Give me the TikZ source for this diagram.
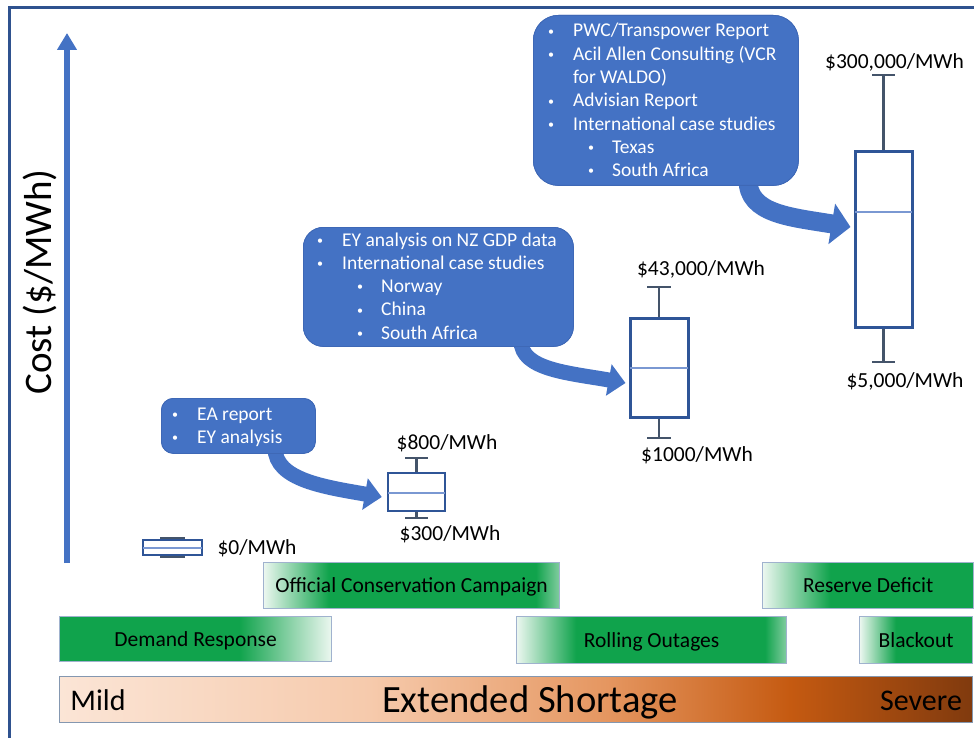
\documentclass[tikz,border=0pt]{standalone}
\usepackage{fontspec}
\setmainfont{Carlito}
\usetikzlibrary{arrows.meta}

\definecolor{framec}{RGB}{47,82,143}
\definecolor{axisblue}{RGB}{68,114,196}
\definecolor{bubbleedge}{RGB}{62,104,182}
\definecolor{boxblue}{RGB}{47,85,151}
\definecolor{medblue}{RGB}{122,152,210}
\definecolor{whisk}{RGB}{68,84,106}
\definecolor{gbar}{RGB}{16,163,76}
\definecolor{gwhite}{RGB}{236,247,240}
\definecolor{gsoft}{RGB}{130,205,160}
\definecolor{baredge}{RGB}{160,178,206}
\definecolor{peach}{RGB}{251,229,214}
\definecolor{peachmid}{RGB}{246,202,172}
\definecolor{orangemid}{RGB}{229,150,96}
\definecolor{burnt}{RGB}{197,90,17}
\definecolor{brownd}{RGB}{128,58,14}
\definecolor{shortedge}{RGB}{132,151,176}

% horizontal shadings: the path spans 25bp..75bp
\pgfdeclarehorizontalshading{shortage}{100bp}{color(0bp)=(peach); color(25bp)=(peach); color(42bp)=(peachmid); color(55bp)=(orangemid); color(65bp)=(burnt); color(75bp)=(brownd); color(100bp)=(brownd)}
\pgfdeclarehorizontalshading{fadeleft}{100bp}{color(0bp)=(gwhite); color(25bp)=(gwhite); color(41bp)=(gbar); color(100bp)=(gbar)}
\pgfdeclarehorizontalshading{fadeboth}{100bp}{color(0bp)=(gwhite); color(25bp)=(gwhite); color(36bp)=(gbar); color(71bp)=(gbar); color(75bp)=(gsoft); color(100bp)=(gsoft)}
\pgfdeclarehorizontalshading{faderight}{100bp}{color(0bp)=(gbar); color(58bp)=(gbar); color(75bp)=(gwhite); color(100bp)=(gwhite)}

% small list bullets
\newcommand\smallbul{\makebox[8pt]{\raisebox{1.8pt}{\fontsize{12}{12}\selectfont\textbullet}}}
\newcommand\itm[1]{\makebox[26pt][l]{\smallbul}#1}
\newcommand\subitm[1]{\hspace{40pt}\makebox[25pt][l]{\smallbul}#1}

\begin{document}
\begin{tikzpicture}[x=1pt,y=-1pt,
  frameline/.style={draw=framec, line width=3pt},
  axisline/.style={draw=axisblue, line width=5.5pt, -{Triangle[length=17pt,width=19pt]}},
  bubble/.style={fill=axisblue, draw=bubbleedge, line width=0.8pt, anchor=north west, inner sep=0pt},
  btext/.style={text=white, anchor=base west, inner sep=0pt, font=\fontsize{19.5}{23.3}\selectfont},
  bigflow/.style={draw=axisblue, line width=19pt, -{Triangle[length=19pt,width=40pt]}},
  flow/.style={draw=axisblue, line width=15pt, -{Triangle[length=17pt,width=31pt]}},
  bx/.style={draw=boxblue, line width=3pt, fill=white, inner sep=0pt},
  med/.style={draw=medblue, line width=2pt, shorten <=1.5pt, shorten >=1.5pt},
  wh/.style={draw=whisk, line width=2.5pt},
  val/.style={font=\fontsize{21.5}{24}\selectfont, text height=14pt, text depth=0pt, inner sep=0pt},
  bar/.style={draw=baredge, line width=1.2pt, anchor=north west, inner sep=0pt, shade,
    font=\fontsize{21.5}{24}\selectfont, text height=14pt, text depth=0pt},
  shortbar/.style={draw=shortedge, line width=1.2pt, shade, shading=shortage, anchor=north west, inner sep=0pt},
  endlbl/.style={font=\fontsize{30}{34}\selectfont, anchor=base, inner sep=0pt},
]
\useasboundingbox (0,0) rectangle (974,738);

% frame
\draw[frameline] (9,760) -- (9,8) -- (990,8);

% cost axis
\coordinate (axbot) at (67,563);
\coordinate (axtop) at (67,33);
\draw[axisline] (axbot) -- (axtop);
\node[rotate=90, font=\fontsize{39}{44}\selectfont, inner sep=0pt] (costlbl) at (40,282) {Cost (\$/MWh)};

% box plots
\node[bx, minimum width=57pt, minimum height=175pt] (boxC) at (883.5,239.5) {};
\node[bx, minimum width=58pt, minimum height=99pt] (boxB) at (659,367.5) {};
\node[bx, line width=2.5pt, minimum width=57pt, minimum height=38pt] (boxA) at (416.5,492) {};

% whiskers
\coordinate (capCt) at (883.5,75);
\coordinate (capCb) at (883.5,362);
\coordinate (capBt) at (659,287);
\coordinate (capBb) at (659,438);
\coordinate (capAt) at (416.5,458);
\coordinate (capAb) at (416.5,518);
\draw[wh] (boxC.north) -- (capCt);
\draw[wh] (boxC.south) -- (capCb);
\draw[wh] (boxB.north) -- (capBt);
\draw[wh] (boxB.south) -- (capBb);
\draw[wh] (boxA.north) -- (capAt);
\draw[wh] (boxA.south) -- (capAb);
\draw[wh] ([xshift=-11.5pt]capCt) -- ([xshift=11.5pt]capCt);
\draw[wh] ([xshift=-11.5pt]capCb) -- ([xshift=11.5pt]capCb);
\draw[wh] ([xshift=-12pt]capBt) -- ([xshift=12pt]capBt);
\draw[wh] ([xshift=-12pt]capBb) -- ([xshift=12pt]capBb);
\draw[wh] ([xshift=-11.5pt]capAt) -- ([xshift=11.5pt]capAt);
\draw[wh] ([xshift=-11.5pt]capAb) -- ([xshift=11.5pt]capAb);

% medians
\draw[med] (boxC.west |- 0,212) -- (boxC.east |- 0,212);
\draw[med] (boxB.west |- 0,368) -- (boxB.east |- 0,368);
\draw[med] (boxA.west |- 0,493) -- (boxA.east |- 0,493);

% zero-cost box
\fill[whisk] (160,537) rectangle (185,558);
\node[bx, line width=2.5pt, minimum width=59pt, minimum height=15pt] (box0) at (172.5,547.5) {};
\draw[med] (box0.west) -- (box0.east);

% value labels
\node[val] (vC1) at (894.5,62) {\$300,000/MWh};
\node[val] (vC2) at (905,380) {\$5,000/MWh};
\node[val] (vB1) at (701,268) {\$43,000/MWh};
\node[val] (vB2) at (697,454) {\$1000/MWh};
\node[val] (vA1) at (447,442) {\$800/MWh};
\node[val] (vA2) at (450,533) {\$300/MWh};
\node[val] (v0) at (257,547) {\$0/MWh};

% source bubbles and their flows
\node[bubble, rounded corners=25pt, minimum width=265pt, minimum height=170pt] (b1) at (533,15) {};
\node[bubble, rounded corners=20pt, minimum width=270pt, minimum height=119pt] (b2) at (303,227) {};
\node[bubble, rounded corners=12pt, minimum width=154pt, minimum height=55pt] (b3) at (161,398) {};

\coordinate (f1s) at ([xshift=215pt,yshift=6pt]b1.south west);
\coordinate (f1e) at ([shift={(-3pt,12.5pt)}]boxC.west);
\coordinate (f2s) at ([xshift=218pt,yshift=6pt]b2.south west);
\coordinate (f2e) at ([shift={(-3pt,-15.5pt)}]boxB.west);
\coordinate (f3s) at ([xshift=114pt,yshift=6pt]b3.south west);
\coordinate (f3e) at ([shift={(-5pt,-5pt)}]boxA.west);
\draw[bigflow] (f1s) .. controls (748,214) and (790,217) .. (f1e);
\draw[flow] (f2s) .. controls (521,370) and (570,373) .. (f2e);
\draw[flow] (f3s) .. controls (275,480) and (325,487) .. (f3e);

% redraw bubble bodies over the flow tails
\node[bubble, rounded corners=25pt, minimum width=265pt, minimum height=170pt] (b1top) at (533,15) {};
\node[bubble, rounded corners=20pt, minimum width=270pt, minimum height=119pt] (b2top) at (303,227) {};
\node[bubble, rounded corners=12pt, minimum width=154pt, minimum height=55pt] (b3top) at (161,398) {};

\node[btext] (b1text) at (547,37) {\begin{tabular}[t]{@{}l@{}}
\itm{PWC/Transpower Report}\\
\itm{Acil Allen Consulting (VCR}\\
\hspace{26pt}for WALDO)\\
\itm{Advisian Report}\\
\itm{International case studies}\\
\subitm{Texas}\\
\subitm{South Africa}
\end{tabular}};
\node[btext] (b2text) at (316,246) {\begin{tabular}[t]{@{}l@{}}
\itm{EY analysis on NZ GDP data}\\
\itm{International case studies}\\
\subitm{Norway}\\
\subitm{China}\\
\subitm{South Africa}
\end{tabular}};
\node[btext] (b3text) at (171,420) {\begin{tabular}[t]{@{}l@{}}
\itm{EA report}\\
\itm{EY analysis}
\end{tabular}};

% response stages
\node[bar, shading=fadeboth, minimum width=296pt, minimum height=46pt] (conserve) at (263,562) {Official Conservation Campaign};
\node[bar, shading=fadeleft, minimum width=211pt, minimum height=46pt] (reserve) at (762,562) {Reserve Deficit};
\node[bar, shading=faderight, minimum width=272pt, minimum height=45pt] (demand) at (59,616) {Demand Response};
\node[bar, shading=fadeboth, minimum width=270pt, minimum height=47pt] (rolling) at (516,616) {Rolling Outages};
\node[bar, shading=fadeleft, minimum width=113pt, minimum height=47pt] (blackout) at (859,616) {Blackout};

% severity scale
\node[shortbar, minimum width=913pt, minimum height=46pt] (shortage) at (59,676) {};
\node[endlbl] (mild) at (98,710) {Mild};
\node[endlbl, font=\fontsize{38.6}{42}\selectfont] (extended) at (530,712) {Extended Shortage};
\node[endlbl] (severe) at (921,710) {Severe};
\end{tikzpicture}
\end{document}
